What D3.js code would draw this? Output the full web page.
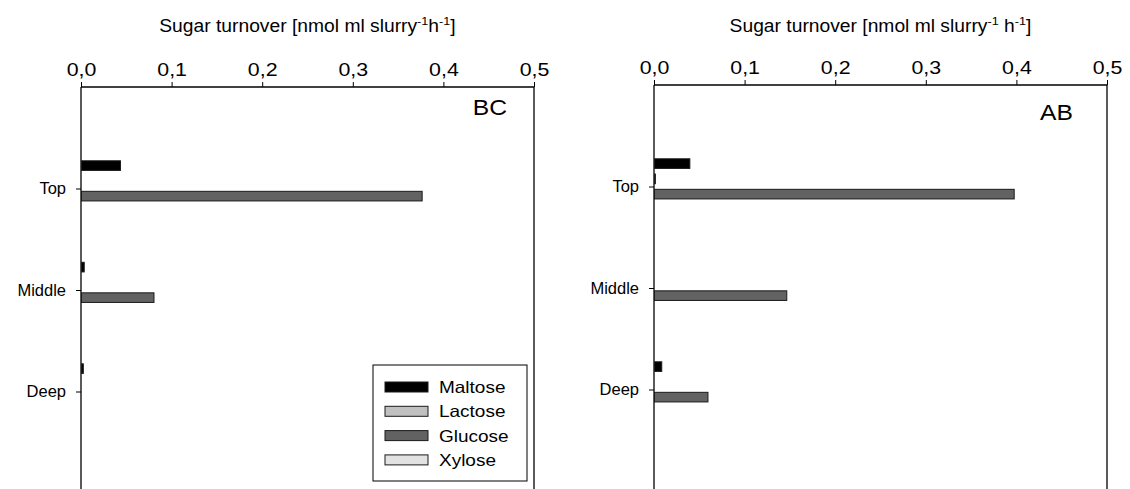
<!DOCTYPE html>
<html>
<head>
<meta charset="utf-8">
<script src="https://cdn.jsdelivr.net/npm/d3@7"></script>
<style>
  html, body { margin: 0; padding: 0; background: #fff; }
  svg { display: block; }
  text { font-family: "Liberation Sans", Arial, sans-serif; fill: #000; }
</style>
</head>
<body>
<svg id="chart" width="1130" height="489"></svg>
<script>
// Depth layers and sugar series
const depths = ["Top", "Middle", "Deep"];
const sugars = ["Maltose", "Lactose", "Glucose", "Xylose"];
const sugarFill = ["#000000", "#c0c0c0", "#626262", "#e2e2e2"];
const xTicks = [0, 0.1, 0.2, 0.3, 0.4, 0.5];

// Turnover rates per site, one array per sugar (Top, Middle, Deep)
const bcMaltose = [0.043, 0.003, 0.002];
const bcLactose = [0, 0, 0];
const bcGlucose = [0.376, 0.080, 0];
const bcXylose  = [0, 0, 0];

const abMaltose = [0.039, 0, 0.008];
const abLactose = [0.001, 0, 0];
const abGlucose = [0.397, 0.146, 0.059];
const abXylose  = [0, 0, 0];

const panels = [
  { site: "BC", left: 81, top: 87, values: [bcMaltose, bcLactose, bcGlucose, bcXylose],
    unitGap: "", siteRight: 27, siteBase: 28, legend: true },
  { site: "AB", left: 654, top: 85, values: [abMaltose, abLactose, abGlucose, abXylose],
    unitGap: " ", siteRight: 34, siteBase: 35, legend: false }
];

const svg = d3.select("#chart");
const plotW = 453, plotH = 406;
const fmt = d => d3.format(".1f")(d).replace(".", ",");

// widen glyphs horizontally by factor k, keeping the text anchor in place
function widen(sel, k) {
  sel.each(function () {
    const len = this.getComputedTextLength();
    d3.select(this).attr("textLength", len * k).attr("lengthAdjust", "spacingAndGlyphs");
  });
}

panels.forEach(p => {
  const g = svg.append("g").attr("transform", `translate(${p.left},${p.top})`);
  const x = d3.scaleLinear().domain([0, 0.5]).range([0, plotW]);
  const y = d3.scaleLinear().domain([0, 4]).range([0, plotH]);
  const slot = d3.scaleBand().domain(sugars).range([-27.7, 27.7]).paddingInner(0.37);

  // frame: top, left and right edges
  g.append("line").attr("x1", 0).attr("x2", plotW).attr("y1", 0).attr("y2", 0)
    .attr("stroke", "#000").attr("stroke-width", 1.3);
  g.append("line").attr("x1", 0).attr("x2", 0).attr("y1", 0).attr("y2", plotH)
    .attr("stroke", "#000").attr("stroke-width", 1.3);
  g.append("line").attr("x1", plotW).attr("x2", plotW).attr("y1", 0).attr("y2", plotH)
    .attr("stroke", "#000").attr("stroke-width", 1.3);

  // top value axis
  const xAxis = g.append("g").call(d3.axisTop(x).tickValues(xTicks).tickFormat(fmt)
    .tickSize(5).tickPadding(6));
  xAxis.select(".domain").remove();
  xAxis.selectAll("line").attr("stroke", "#000");
  xAxis.selectAll("text").attr("font-size", 17.5)
    .attr("font-family", "Liberation Sans, Arial, sans-serif")
    .call(widen, 1.22);

  // depth axis on the left
  const yAxis = g.append("g").call(d3.axisLeft(y).tickValues([1, 2, 3])
    .tickFormat(d => depths[d - 1]).tickSize(5).tickPadding(10));
  yAxis.select(".domain").remove();
  yAxis.selectAll("line").attr("stroke", "#000");
  yAxis.selectAll("text").attr("font-size", 16.5)
    .attr("font-family", "Liberation Sans, Arial, sans-serif");

  // bars, skipping empty values
  sugars.forEach((s, i) => {
    const rows = p.values[i].map((v, j) => ({ v, j })).filter(d => d.v > 0);
    g.append("g").selectAll("rect").data(rows).join("rect")
      .attr("x", 0.5)
      .attr("y", d => y(d.j + 1) + slot(s))
      .attr("width", d => x(d.v))
      .attr("height", slot.bandwidth())
      .attr("fill", sugarFill[i])
      .attr("stroke", "#1a1a1a")
      .attr("stroke-width", 1);
  });

  // axis title with superscripts
  const t = svg.append("text").attr("x", p.left + plotW / 2).attr("y", 32)
    .attr("text-anchor", "middle").attr("font-size", 17.5);
  t.append("tspan").text("Sugar turnover [nmol ml slurry");
  t.append("tspan").attr("dy", -7).attr("font-size", 11.5).text("-1");
  t.append("tspan").attr("dy", 7).text(p.unitGap + "h");
  t.append("tspan").attr("dy", -7).attr("font-size", 11.5).text("-1");
  t.append("tspan").attr("dy", 7).text("]");
  t.call(widen, 1.1);

  // site label
  g.append("text").attr("x", plotW - p.siteRight).attr("y", p.siteBase)
    .attr("text-anchor", "end").attr("font-size", 22).text(p.site)
    .call(widen, 1.12);

  if (p.legend) {
    const lg = svg.append("g").attr("transform", "translate(373,365)");
    lg.append("rect").attr("width", 154).attr("height", 116)
      .attr("fill", "#fff").attr("stroke", "#000").attr("stroke-width", 1);
    sugars.forEach((s, i) => {
      const row = lg.append("g").attr("transform", `translate(12,${17 + i * 24.3})`);
      row.append("rect").attr("width", 43).attr("height", 10)
        .attr("fill", sugarFill[i]).attr("stroke", "#1a1a1a").attr("stroke-width", 1);
      row.append("text").attr("x", 54).attr("y", 11).attr("font-size", 16.5).text(s)
        .call(widen, 1.15);
    });
  }
});
</script>
</body>
</html>
